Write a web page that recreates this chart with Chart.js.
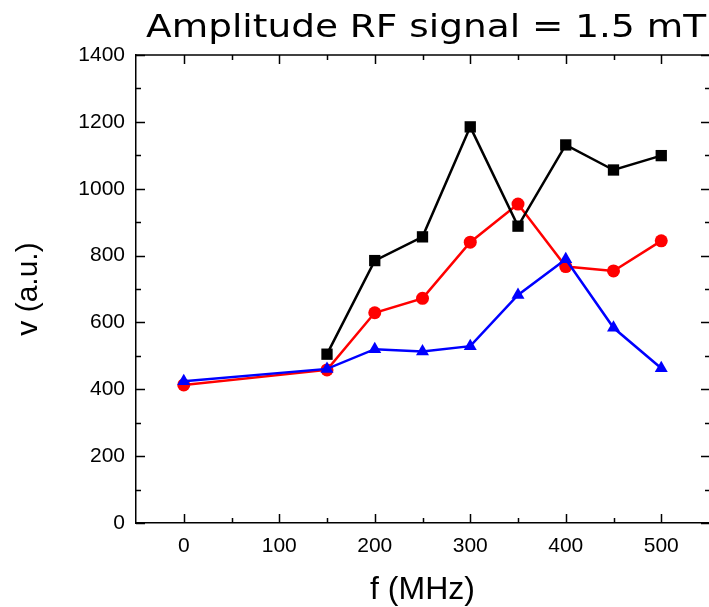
<!DOCTYPE html>
<html>
<head>
<meta charset="utf-8">
<script src="https://cdn.jsdelivr.net/npm/chart.js@4.4.0/dist/chart.umd.min.js"></script>
<style>
  html, body { margin: 0; padding: 0; background: #fff; }
  #wrap { width: 709px; height: 607px; }
</style>
</head>
<body>
<div id="wrap"><canvas id="chart" width="709" height="607"></canvas></div>
<script>
// values
const freqs = [0, 150, 200, 250, 300, 350, 400, 450, 500];
const blackVals = [null, 505, 785, 856, 1185, 888, 1131, 1056, 1099];
const redVals = [413, 458, 629, 672, 840, 954, 767, 754, 844];
const blueVals = [424, 461, 520, 513, 529, 682, 789, 584, 463];

const xTicks = [0, 100, 200, 300, 400, 500];
const xMinorTicks = [50, 150, 250, 350, 450];
const yTicks = [0, 200, 400, 600, 800, 1000, 1200, 1400];
const yMinorTicks = [100, 300, 500, 700, 900, 1100, 1300];

const chartTitle = 'Amplitude RF signal = 1.5 mT';

const toPoints = vals => freqs
    .map((f, i) => ({ x: f, y: vals[i] }))
    .filter(p => p.y !== null);

// top frame line and inward tick marks on all four sides
// (the right-hand frame line sits just past the image edge in the source)
const frameTicks = {
    id: 'frameTicks',
    beforeDatasetsDraw(chart) {
        const { ctx, chartArea: a, scales } = chart;
        const xs = scales.x, ys = scales.y;
        const right = chart.width + 1;
        ctx.save();
        ctx.strokeStyle = '#000';
        ctx.lineWidth = 1.5;
        ctx.beginPath();
        ctx.moveTo(a.left, a.top);
        ctx.lineTo(right, a.top);
        ctx.stroke();

        const vTick = (v, len) => {
            const px = Math.round(xs.getPixelForValue(v)) + 0.5;
            ctx.moveTo(px, a.bottom);
            ctx.lineTo(px, a.bottom - len);
            ctx.moveTo(px, a.top);
            ctx.lineTo(px, a.top + len);
        };
        const hTick = (v, len) => {
            const py = Math.round(ys.getPixelForValue(v)) + 0.5;
            ctx.moveTo(a.left, py);
            ctx.lineTo(a.left + len, py);
            ctx.moveTo(right, py);
            ctx.lineTo(right - len, py);
        };
        ctx.beginPath();
        xTicks.forEach(v => vTick(v, 9));
        xMinorTicks.forEach(v => vTick(v, 5));
        yTicks.forEach(v => hTick(v, 9));
        yMinorTicks.forEach(v => hTick(v, 5));
        ctx.stroke();
        ctx.restore();
    }
};

// the title in the source is rendered a bit wide, so draw it stretched
const wideTitle = {
    id: 'wideTitle',
    afterDraw(chart) {
        const ctx = chart.ctx;
        ctx.save();
        ctx.font = '32px "DejaVu Sans", Verdana, sans-serif';
        ctx.fillStyle = '#000';
        ctx.textAlign = 'right';
        ctx.textBaseline = 'alphabetic';
        ctx.translate(706, 37);
        ctx.scale(1.17, 1);
        ctx.fillText(chartTitle, 0, 0);
        ctx.restore();
    }
};

const tickFont = { family: '"Liberation Sans", Arial, sans-serif', size: 21 };

new Chart(document.getElementById('chart'), {
    type: 'line',
    data: {
        datasets: [
            {
                data: toPoints(blackVals),
                borderColor: '#000000',
                backgroundColor: '#000000',
                pointStyle: 'rect',
                pointRadius: 8,
                pointBorderWidth: 0
            },
            {
                data: toPoints(blueVals),
                borderColor: '#0000ff',
                backgroundColor: '#0000ff',
                pointStyle: 'triangle',
                pointRadius: 7.5,
                pointBorderWidth: 0
            },
            {
                data: toPoints(redVals),
                borderColor: '#ff0000',
                backgroundColor: '#ff0000',
                pointStyle: 'circle',
                pointRadius: 6.5,
                pointBorderWidth: 0
            }
        ]
    },
    options: {
        responsive: false,
        animation: false,
        devicePixelRatio: 1,
        layout: { autoPadding: false, padding: { left: 0, right: 0, top: 55, bottom: 0 } },
        elements: {
            line: { borderWidth: 2.5, tension: 0 }
        },
        plugins: {
            legend: { display: false },
            tooltip: { enabled: false },
            title: { display: false }
        },
        scales: {
            x: {
                type: 'linear',
                min: -50,
                max: 550,
                grid: { display: false, drawTicks: false },
                border: { display: true, color: '#000', width: 1.5 },
                afterBuildTicks: s => { s.ticks = xTicks.map(v => ({ value: v })); },
                afterFit: s => { s.height = 84; },
                ticks: { color: '#000', font: tickFont, padding: 11, maxRotation: 0, callback: v => String(v) },
                title: {
                    display: true,
                    text: 'f (MHz)',
                    color: '#000',
                    font: { family: '"Liberation Sans", Arial, sans-serif', size: 32, lineHeight: 1 },
                    padding: { top: 0, bottom: 1 }
                }
            },
            y: {
                type: 'linear',
                min: 0,
                max: 1400,
                grid: { display: false, drawTicks: false },
                border: { display: true, color: '#000', width: 1.5 },
                afterBuildTicks: s => { s.ticks = yTicks.map(v => ({ value: v })); },
                afterFit: s => { s.width = 136; },
                ticks: { color: '#000', font: tickFont, padding: 11, callback: v => String(v) },
                title: {
                    display: true,
                    text: 'v (a.u.)',
                    color: '#000',
                    font: { family: '"Liberation Sans", Arial, sans-serif', size: 30, lineHeight: 1 },
                    padding: { top: 14, bottom: 0 }
                }
            }
        }
    },
    plugins: [frameTicks, wideTitle]
});
</script>
</body>
</html>
